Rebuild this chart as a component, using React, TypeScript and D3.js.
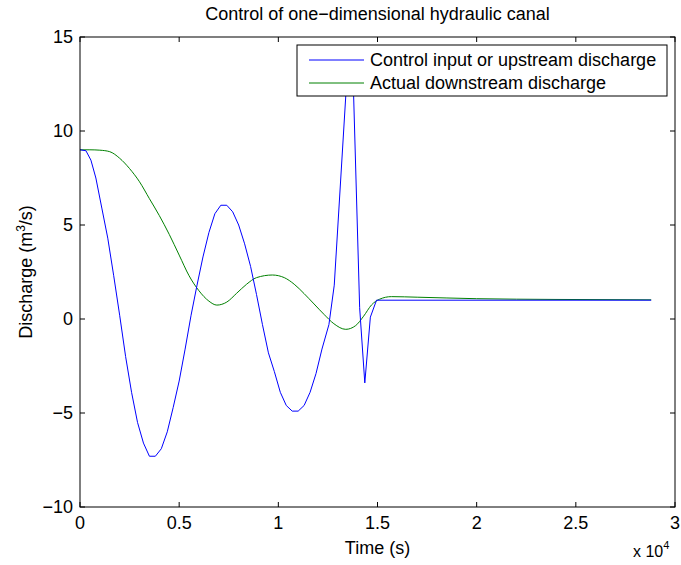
import * as d3 from "d3";

const WIDTH = 681;
const HEIGHT = 565;
const MARGIN = { top: 37, right: 6, bottom: 58, left: 80 };
const FONT = "'Liberation Sans', Arial, Helvetica, sans-serif";

// time in seconds, discharge in m^3/s
const upstreamTime = [
  0, 300, 550, 800, 1100, 1400, 1700, 2000, 2300, 2600, 2900, 3200, 3500, 3800,
  4100, 4400, 4700, 5000, 5300, 5600, 5900, 6200, 6500, 6800, 7100, 7400, 7700,
  8000, 8300, 8600, 8900, 9200, 9500, 9800, 10100, 10400, 10700, 11000, 11300,
  11600, 11900, 12200, 12550, 12820, 13500, 13750, 14100, 14360, 14640, 14950,
  28800,
];
const upstreamFlow = [
  9.0, 8.95, 8.45, 7.5, 5.9, 4.3, 2.3, 0.2, -2.0, -3.9, -5.5, -6.6, -7.3, -7.3,
  -6.9, -6.0, -4.7, -3.3, -1.6, 0.2, 1.8, 3.3, 4.6, 5.6, 6.05, 6.05, 5.7, 5.0,
  4.0, 2.8, 1.3, -0.3, -1.8, -2.8, -3.9, -4.6, -4.9, -4.9, -4.6, -3.9, -2.9,
  -1.6, -0.3, 1.8, 13.6, 13.6, 0.6, -3.4, 0.1, 1.0, 1.0,
];

const downstreamTime = [
  0, 500, 1000, 1500, 2000, 2500, 3000, 3500, 4000, 4500, 5000, 5500, 6000,
  6500, 6900, 7400, 7900, 8400, 8900, 9700, 10300, 10800, 11300, 11800, 12300,
  12800, 13400, 13900, 14300, 14700, 15100, 15700, 17000, 20000, 24000, 28800,
];
const downstreamFlow = [
  9.0, 9.0, 8.98, 8.9, 8.55, 8.0, 7.3, 6.4, 5.5, 4.5, 3.4, 2.3, 1.5, 0.95,
  0.74, 0.9, 1.37, 1.85, 2.2, 2.34, 2.2, 1.85, 1.35, 0.8, 0.25, -0.25, -0.55,
  -0.35, 0.15, 0.75, 1.05, 1.19, 1.16, 1.08, 1.04, 1.02,
];

const xTicks = [0, 0.5, 1, 1.5, 2, 2.5, 3];
const yTicks = [-10, -5, 0, 5, 10, 15];

const seriesNames = ["Control input or upstream discharge", "Actual downstream discharge"];
const seriesColors = ["#0000ff", "#008000"];

export default function App() {
  const x = d3
    .scaleLinear()
    .domain([0, 3])
    .range([MARGIN.left, WIDTH - MARGIN.right]);
  const y = d3
    .scaleLinear()
    .domain([-10, 15])
    .range([HEIGHT - MARGIN.bottom, MARGIN.top]);

  const upstream = upstreamTime.map((t, i) => [t / 1e4, upstreamFlow[i]] as [number, number]);
  const downstream = downstreamTime.map((t, i) => [t / 1e4, downstreamFlow[i]] as [number, number]);

  const straight = d3
    .line<[number, number]>()
    .x((d) => x(d[0]))
    .y((d) => y(d[1]));
  const smooth = d3
    .line<[number, number]>()
    .x((d) => x(d[0]))
    .y((d) => y(d[1]))
    .curve(d3.curveMonotoneX);

  const [x0, x1] = x.range();
  const [y0, y1] = y.range();
  const tick = 5;
  const axisColor = "#000";

  const legend = { left: 297, top: 45, right: 667, bottom: 96 };

  return (
    <svg
      width={WIDTH}
      height={HEIGHT}
      style={{ position: "absolute", left: 0, top: 0, background: "#fff" }}
      fontFamily={FONT}
    >
      <rect width={WIDTH} height={HEIGHT} fill="#fff" />

      <path d={smooth(downstream) ?? ""} fill="none" stroke={seriesColors[1]} strokeWidth={1} />
      <path d={straight(upstream) ?? ""} fill="none" stroke={seriesColors[0]} strokeWidth={1} />

      {/* box and ticks */}
      <rect x={x0} y={y1} width={x1 - x0} height={y0 - y1} fill="none" stroke={axisColor} strokeWidth={1} />
      {xTicks.map((t) => (
        <g key={`x${t}`}>
          <line x1={x(t)} x2={x(t)} y1={y0} y2={y0 - tick} stroke={axisColor} />
          <line x1={x(t)} x2={x(t)} y1={y1} y2={y1 + tick} stroke={axisColor} />
          <text x={x(t)} y={y0 + 22} textAnchor="middle" fontSize={18}>
            {t}
          </text>
        </g>
      ))}
      {yTicks.map((t) => (
        <g key={`y${t}`}>
          <line x1={x0} x2={x0 + tick} y1={y(t)} y2={y(t)} stroke={axisColor} />
          <line x1={x1} x2={x1 - tick} y1={y(t)} y2={y(t)} stroke={axisColor} />
          <text x={x0 - 7} y={y(t) + 6} textAnchor="end" fontSize={18}>
            {t < 0 ? `\u2212${Math.abs(t)}` : t}
          </text>
        </g>
      ))}

      {/* legend */}
      <rect
        x={legend.left}
        y={legend.top}
        width={legend.right - legend.left}
        height={legend.bottom - legend.top}
        fill="#fff"
        stroke={axisColor}
      />
      {seriesNames.map((name, i) => {
        const cy = legend.top + 15 + i * 23;
        return (
          <g key={name}>
            <line x1={legend.left + 12} x2={legend.left + 67} y1={cy} y2={cy} stroke={seriesColors[i]} />
            <text x={legend.left + 73} y={cy + 6} fontSize={18}>
              {name}
            </text>
          </g>
        );
      })}

      {/* titles */}
      <text x={(x0 + x1) / 2} y={20} textAnchor="middle" fontSize={18}>
        Control of one{"\u2212"}dimensional hydraulic canal
      </text>
      <text x={(x0 + x1) / 2} y={554} textAnchor="middle" fontSize={18}>
        Time (s)
      </text>
      <text x={633} y={557} fontSize={16}>
        x 10
        <tspan dy={-8} fontSize={11}>
          4
        </tspan>
      </text>
      <text transform={`translate(32, ${(y0 + y1) / 2}) rotate(-90)`} textAnchor="middle" fontSize={18}>
        Discharge (m
        <tspan dy={-7} fontSize={12}>
          3
        </tspan>
        <tspan dy={7}>/s)</tspan>
      </text>
    </svg>
  );
}
